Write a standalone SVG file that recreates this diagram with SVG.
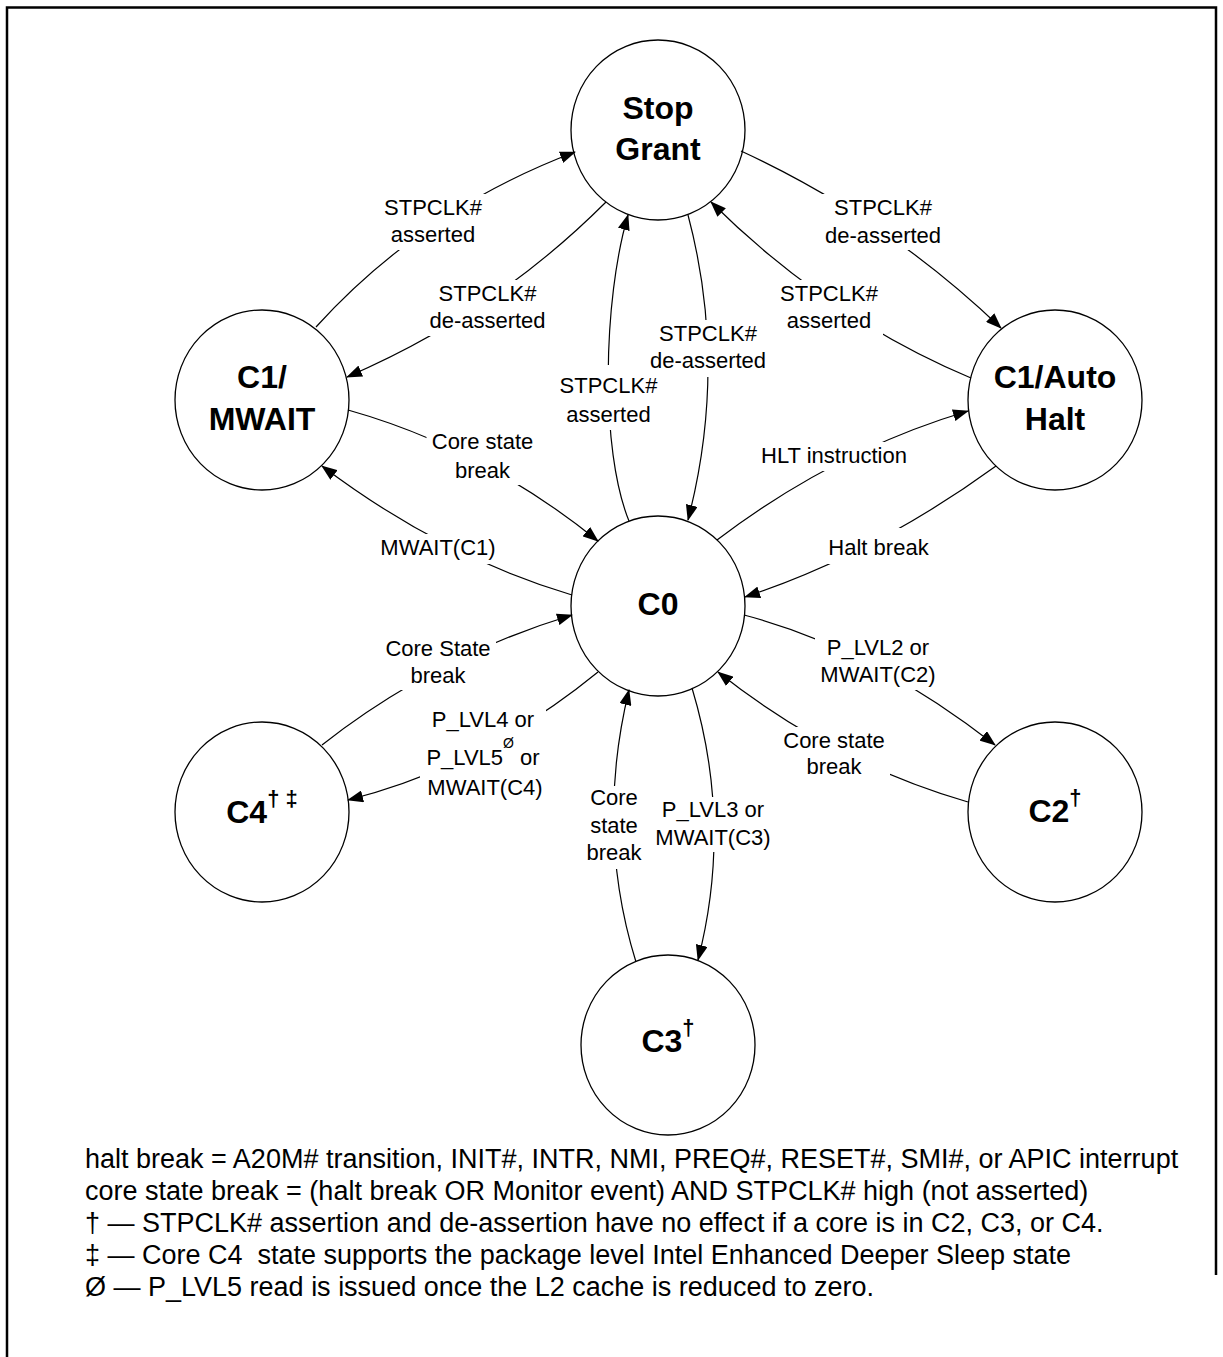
<svg xmlns="http://www.w3.org/2000/svg" width="1223" height="1357" viewBox="0 0 1223 1357">
<defs>
<marker id="ah" markerUnits="userSpaceOnUse" markerWidth="16" markerHeight="12" viewBox="0 0 16 12" refX="15" refY="6" orient="auto">
<path d="M0,0 L16,6 L0,12 Z" fill="#000"/>
</marker>
<style>
.node ellipse{fill:#fff;stroke:#000;stroke-width:1.3}
.nl{font-family:"Liberation Sans",Arial,sans-serif;font-weight:bold;font-size:32px;text-anchor:middle;fill:#000}
.sup{font-size:22px}
.conn path{fill:none;stroke:#000;stroke-width:1.2;marker-end:url(#ah)}
.bg{fill:#fff;stroke:none}
.el{font-family:"Liberation Sans",Arial,sans-serif;font-size:22px;text-anchor:middle;fill:#000}
.foot{font-family:"Liberation Sans",Arial,sans-serif;font-size:27px;fill:#000;white-space:pre}
</style>
</defs>
<rect x="0" y="0" width="1223" height="1357" fill="#fff"/>
<path d="M7,1357 V7.5 H1216 V1275" fill="none" stroke="#000" stroke-width="2.5"/>

<g id="stopgrant" class="node"><ellipse cx="658" cy="130" rx="87" ry="90"/><text class="nl" x="658" y="119">Stop</text><text class="nl" x="658" y="160">Grant</text></g>
<g id="c1mwait" class="node"><ellipse cx="262" cy="400" rx="87" ry="90"/><text class="nl" x="262" y="388">C1/</text><text class="nl" x="262" y="430">MWAIT</text></g>
<g id="c1autohalt" class="node"><ellipse cx="1055" cy="400" rx="87" ry="90"/><text class="nl" x="1055" y="388">C1/Auto</text><text class="nl" x="1055" y="430">Halt</text></g>
<g id="c0" class="node"><ellipse cx="658" cy="606" rx="87" ry="90"/><text class="nl" x="658" y="615">C0</text></g>
<g id="c4" class="node"><ellipse cx="262" cy="812" rx="87" ry="90"/><text class="nl" x="262" y="823">C4<tspan class="sup" dy="-17">† ‡</tspan></text></g>
<g id="c2" class="node"><ellipse cx="1055" cy="812" rx="87" ry="90"/><text class="nl" x="1055" y="822">C2<tspan class="sup" dy="-17">†</tspan></text></g>
<g id="c3" class="node"><ellipse cx="668" cy="1045" rx="87" ry="90"/><text class="nl" x="668" y="1052">C3<tspan class="sup" dy="-17">†</tspan></text></g>

<g id="connectors" class="conn">
<path d="M316,327 Q422,210 575,152"/>
<path d="M606,202 Q494,314 347,377"/>
<path d="M629,521 C600,450 603,300 628,215"/>
<path d="M688,215 Q728,366 688,520"/>
<path d="M741,151 Q886,218 1001,328"/>
<path d="M971,378 Q828,318 711,202"/>
<path d="M717,540 Q834,451 968,411"/>
<path d="M996,466 Q875,554 745,597"/>
<path d="M348,410 Q483,448 598,541"/>
<path d="M572,595 Q441,556 322,466"/>
<path d="M322,745 Q434,657 572,615"/>
<path d="M598,672 Q483,766 348,800"/>
<path d="M636,962 Q595,830 629,690"/>
<path d="M692,688 Q733,824 698,960"/>
<path d="M744,615 Q871,648 995,745"/>
<path d="M968,802 Q833,763 718,672"/>
</g>

<g id="labels">
<g><rect class="bg" x="379" y="194" width="108" height="56"/><text class="el"><tspan x="433" y="215">STPCLK#</tspan><tspan x="433" y="242">asserted</tspan></text></g>
<g><rect class="bg" x="424.5" y="280" width="126" height="56"/><text class="el"><tspan x="487.5" y="300.5">STPCLK#</tspan><tspan x="487.5" y="328">de-asserted</tspan></text></g>
<g><rect class="bg" x="554.5" y="365" width="108" height="65"/><text class="el"><tspan x="608.5" y="393">STPCLK#</tspan><tspan x="608.5" y="421.5">asserted</tspan></text></g>
<g><rect class="bg" x="645" y="320" width="126" height="57"/><text class="el"><tspan x="708" y="341">STPCLK#</tspan><tspan x="708" y="368">de-asserted</tspan></text></g>
<g><rect class="bg" x="820" y="194" width="126" height="56"/><text class="el"><tspan x="883" y="215">STPCLK#</tspan><tspan x="883" y="242.5">de-asserted</tspan></text></g>
<g><rect class="bg" x="775" y="280" width="108" height="56"/><text class="el"><tspan x="829" y="300.5">STPCLK#</tspan><tspan x="829" y="328">asserted</tspan></text></g>
<g><rect class="bg" x="755" y="442" width="158" height="29"/><text class="el" x="834" y="463">HLT instruction</text></g>
<g><rect class="bg" x="823.5" y="528" width="110" height="36"/><text class="el" x="878.5" y="555">Halt break</text></g>
<g><rect class="bg" x="426.5" y="430" width="113" height="55"/><text class="el"><tspan x="482.5" y="449">Core state</tspan><tspan x="482.5" y="477.5">break</tspan></text></g>
<g><rect class="bg" x="375" y="534" width="126" height="30"/><text class="el" x="438" y="555">MWAIT(C1)</text></g>
<g><rect class="bg" x="380" y="636" width="116" height="54"/><text class="el"><tspan x="438" y="656">Core State</tspan><tspan x="438" y="682.5">break</tspan></text></g>
<g><rect class="bg" x="420" y="706" width="126" height="97"/><text class="el"><tspan x="483" y="726.5">P_LVL4 or</tspan><tspan x="483" y="765">P_LVL5<tspan font-size="14" dy="-17">Ø</tspan><tspan dy="17"> or</tspan></tspan><tspan x="485" y="795">MWAIT(C4)</tspan></text></g>
<g><rect class="bg" x="584" y="786" width="60" height="83"/><text class="el"><tspan x="614" y="805">Core</tspan><tspan x="614" y="833">state</tspan><tspan x="614" y="859.5">break</tspan></text></g>
<g><rect class="bg" x="650" y="797" width="126" height="55"/><text class="el"><tspan x="713" y="816.5">P_LVL3 or</tspan><tspan x="713" y="844.5">MWAIT(C3)</tspan></text></g>
<g><rect class="bg" x="815" y="634" width="126" height="56"/><text class="el"><tspan x="878" y="655">P_LVL2 or</tspan><tspan x="878" y="681.5">MWAIT(C2)</tspan></text></g>
<g><rect class="bg" x="778" y="727" width="112" height="55"/><text class="el"><tspan x="834" y="747.5">Core state</tspan><tspan x="834" y="774">break</tspan></text></g>
</g>

<g id="notes">
<text class="foot" x="85" y="1168">halt break = A20M# transition, INIT#, INTR, NMI, PREQ#, RESET#, SMI#, or APIC interrupt</text>
<text class="foot" x="85" y="1200">core state break = (halt break OR Monitor event) AND STPCLK# high (not asserted)</text>
<text class="foot" x="85" y="1232">† — STPCLK# assertion and de-assertion have no effect if a core is in C2, C3, or C4.</text>
<text class="foot" x="85" y="1264">‡ — Core C4  state supports the package level Intel Enhanced Deeper Sleep state</text>
<text class="foot" x="85" y="1296">Ø — P_LVL5 read is issued once the L2 cache is reduced to zero.</text>
</g>
</svg>
